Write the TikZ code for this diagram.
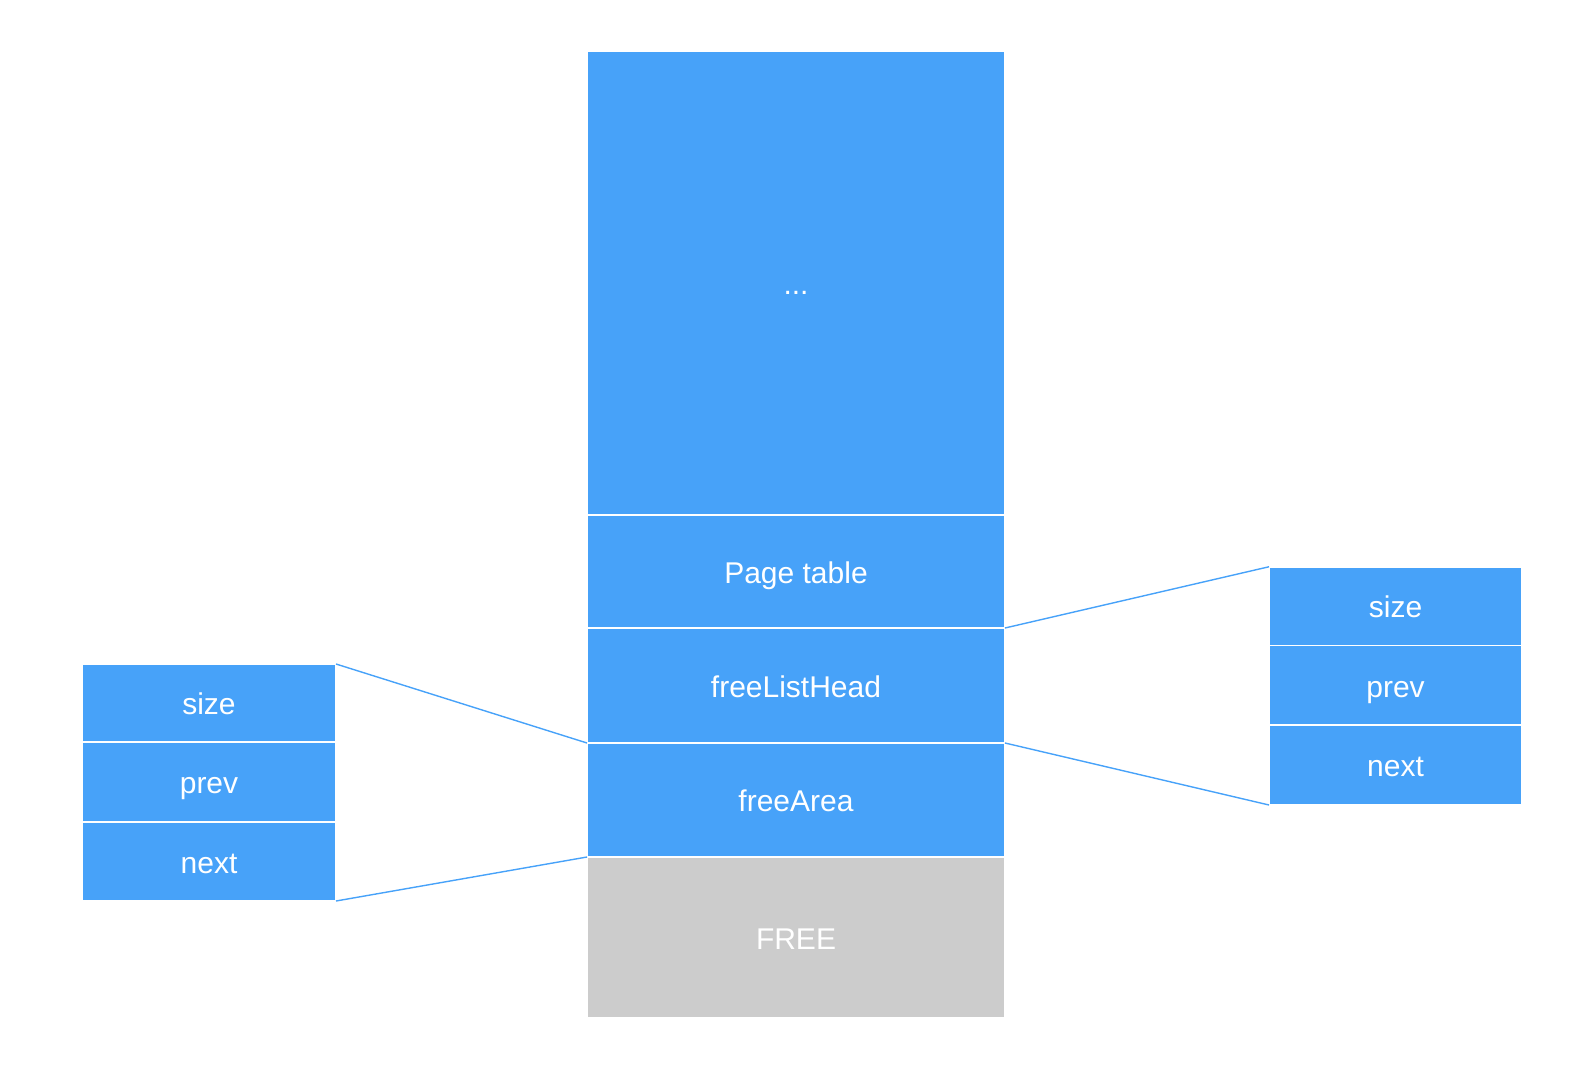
\documentclass[tikz,border=0pt]{standalone}
\usepackage{fontspec}
\setmainfont{Liberation Sans}
\definecolor{cellblue}{RGB}{71,162,249}
\definecolor{cellgray}{RGB}{204,204,204}
\begin{document}
\begin{tikzpicture}[x=1pt,y=1pt,
  cell/.style={rectangle, fill=cellblue, draw=white, line width=1.5pt,
    inner sep=0pt, outer sep=0pt, text=white,
    text height=29.6pt, text depth=6pt,
    font=\fontsize{30}{36}\selectfont},
  link/.style={draw=cellblue, line width=1.4pt}]
\useasboundingbox (0,0) rectangle (1584,-1070);

% memory column
\node[cell, minimum width=418, minimum height=464] (dots) at (796,-283) {...};
\node[cell, minimum width=418, minimum height=113] (page) at (796,-571.5) {Page table};
\node[cell, minimum width=418, minimum height=115] (head) at (796,-685.5) {freeListHead};
\node[cell, minimum width=418, minimum height=114] (area) at (796,-800) {freeArea};
\node[cell, fill=cellgray, minimum width=418, minimum height=161] (free) at (796,-937.5) {FREE};

% left free-list node
\node[cell, minimum width=254, minimum height=78] (lsize) at (209,-703) {size};
\node[cell, minimum width=254, minimum height=80] (lprev) at (209,-782) {prev};
\node[cell, minimum width=254, minimum height=79] (lnext) at (209,-861.5) {next};

% right free-list node
\node[cell, minimum width=253, minimum height=78.5] (rsize) at (1395.5,-606) {size};
\node[cell, minimum width=253, minimum height=79.5] (rprev) at (1395.5,-685.25) {prev};
\node[cell, minimum width=253, minimum height=80] (rnext) at (1395.5,-765) {next};

% expansion lines
\draw[link] (head.north east) -- (rsize.north west);
\draw[link] (head.south east) -- (rnext.south west);
\draw[link] (area.north west) -- (lsize.north east);
\draw[link] (area.south west) -- (lnext.south east);
\end{tikzpicture}
\end{document}
